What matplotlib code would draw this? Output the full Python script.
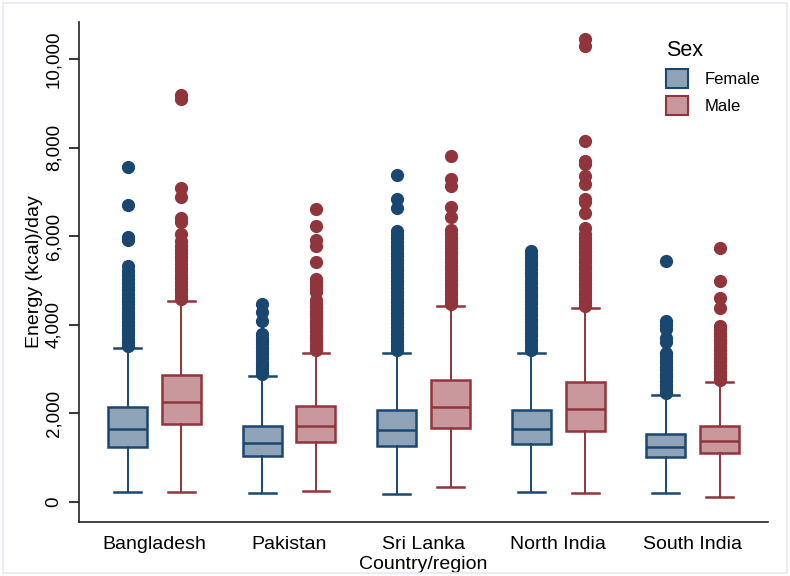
import matplotlib
matplotlib.use("Agg")
import matplotlib.pyplot as plt
from matplotlib.patches import Patch, Rectangle

plt.rcParams["font.family"] = ["Liberation Sans", "DejaVu Sans"]

# Data (kcal/day)
regions = ["Bangladesh", "Pakistan", "Sri Lanka", "North India", "South India"]
sexes = ["Female", "Male"]

# per region: [female, male]
q1 = [[1247, 1769], [1027, 1345], [1254, 1671], [1315, 1610], [1005, 1104]]
med = [[1655, 2245], [1331, 1707], [1633, 2138], [1655, 2109], [1240, 1367]]
q3 = [[2132, 2857], [1723, 2161], [2086, 2751], [2086, 2698], [1542, 1707]]
whis_lo = [[227, 227], [211, 249], [181, 347], [227, 204], [197, 120]]
whis_hi = [[3469, 4535], [2841, 3372], [3372, 4429], [3356, 4376], [2404, 2705]]

fliers = [
    [
        [7570, 6710, 5990, 5920, 5330, 5210, 5120, 5040, 4950, 4860, 4780, 4690, 4610,
         4540, 4460, 4380, 4300, 4220, 4150, 4070, 3990, 3910, 3840, 3760, 3680, 3610, 3530],
        [9180, 9110, 7080, 6890, 6420, 6330, 6050, 5900, 5790, 5700, 5620, 5540, 5460,
         5370, 5290, 5210, 5130, 5050, 4970, 4890, 4810, 4730, 4650, 4590],
    ],
    [
        [4470, 4280, 4090, 3790, 3710, 3640, 3560, 3480, 3400, 3330, 3250, 3170, 3090,
         3020, 2940, 2890],
        [6610, 6230, 5920, 5790, 5420, 5030, 4960, 4880, 4800, 4730, 4560, 4480, 4400,
         4320, 4250, 4170, 4090, 4010, 3940, 3860, 3780, 3700, 3630, 3550, 3470, 3420],
    ],
    [
        [7390, 6830, 6640, 6110, 6030, 5950, 5870, 5790, 5710, 5630, 5550, 5470, 5390,
         5310, 5230, 5150, 5070, 4990, 4910, 4830, 4750, 4670, 4590, 4510, 4430, 4350,
         4270, 4190, 4110, 4030, 3950, 3870, 3790, 3710, 3630, 3550, 3480, 3420],
        [7820, 7300, 7140, 6660, 6430, 6130, 6050, 5970, 5890, 5810, 5730, 5650, 5570,
         5490, 5410, 5330, 5250, 5170, 5090, 5010, 4930, 4850, 4770, 4690, 4610, 4530, 4480],
    ],
    [
        [5670, 5580, 5500, 5420, 5340, 5260, 5180, 5100, 5020, 4940, 4860, 4780, 4700,
         4620, 4540, 4460, 4380, 4300, 4220, 4140, 4060, 3980, 3900, 3820, 3740, 3660,
         3580, 3500, 3420],
        [10450, 10300, 8160, 7690, 7640, 7370, 7190, 6850, 6780, 6530, 6190, 6050, 5970,
         5890, 5810, 5730, 5650, 5570, 5490, 5410, 5330, 5250, 5170, 5090, 5010, 4930,
         4850, 4770, 4690, 4610, 4530, 4460, 4420],
    ],
    [
        [5430, 4090, 3990, 3900, 3710, 3620, 3370, 3290, 3210, 3130, 3050, 2970, 2890,
         2810, 2730, 2650, 2570, 2490, 2450],
        [5730, 4980, 4600, 4390, 3980, 3900, 3820, 3740, 3660, 3580, 3500, 3420, 3340,
         3260, 3180, 3100, 3020, 2940, 2860, 2780, 2750],
    ],
]

yticks = [0, 2000, 4000, 6000, 8000, 10000]
ytick_labels = ["0", "2,000", "4,000", "6,000", "8,000", "10,000"]

edge_cols = ["#1a476f", "#90353b"]
fill_cols = ["#8fa3b8", "#c8989c"]
offsets = [-0.2, 0.2]

fig = plt.figure(figsize=(7.9, 5.76), dpi=100)
ax = fig.add_axes([0.1, 0.0938, 0.872, 0.868])

for s in range(2):
    stats = []
    pos = []
    for g in range(len(regions)):
        stats.append(dict(med=med[g][s], q1=q1[g][s], q3=q3[g][s],
                          whislo=whis_lo[g][s], whishi=whis_hi[g][s],
                          fliers=fliers[g][s]))
        pos.append(g + offsets[s])
    ax.bxp(stats, positions=pos, widths=0.29, capwidths=0.2, patch_artist=True,
           boxprops=dict(facecolor=fill_cols[s], edgecolor=edge_cols[s], linewidth=1.8),
           medianprops=dict(color=edge_cols[s], linewidth=1.8),
           whiskerprops=dict(color=edge_cols[s], linewidth=1.4),
           capprops=dict(color=edge_cols[s], linewidth=1.8),
           flierprops=dict(marker="o", markerfacecolor=edge_cols[s],
                           markeredgecolor=edge_cols[s], markersize=8.5))

ax.set_xlim(-0.561, 4.558)
ax.set_ylim(-454, 10839)
ax.set_xticks(range(len(regions)))
ax.set_xticklabels(regions, fontsize=14)
ax.tick_params(axis="x", length=0, pad=10)
ax.set_yticks(yticks)
ax.set_yticklabels(ytick_labels, rotation=90, va="center", fontsize=13.5)
ax.tick_params(axis="y", length=7, width=1.1, pad=5)
ax.set_xlabel("Country/region", fontsize=14, labelpad=2)
ax.set_ylabel("Energy (kcal)/day", fontsize=14, labelpad=2)

for side in ["top", "right"]:
    ax.spines[side].set_visible(False)
for side in ["left", "bottom"]:
    ax.spines[side].set_linewidth(1.2)
    ax.spines[side].set_color("#222222")

handles = [Patch(facecolor=fill_cols[i], edgecolor=edge_cols[i], linewidth=1.5, label=sexes[i])
           for i in range(2)]
leg = fig.legend(handles=handles, title="Sex", loc="upper left",
                 bbox_to_anchor=(0.843, 0.93), frameon=False, fontsize=12,
                 title_fontsize=15.5, alignment="left", handlelength=1.3,
                 handleheight=1.4, handletextpad=1.0, labelspacing=0.45,
                 borderpad=0, borderaxespad=0)

# light outline of the graph region
fig.patches.append(Rectangle((0.004, 0.005), 0.992, 0.99, transform=fig.transFigure,
                             fill=False, edgecolor="#e3eaf0", linewidth=1.2))

fig.savefig("out.png", dpi=100)
